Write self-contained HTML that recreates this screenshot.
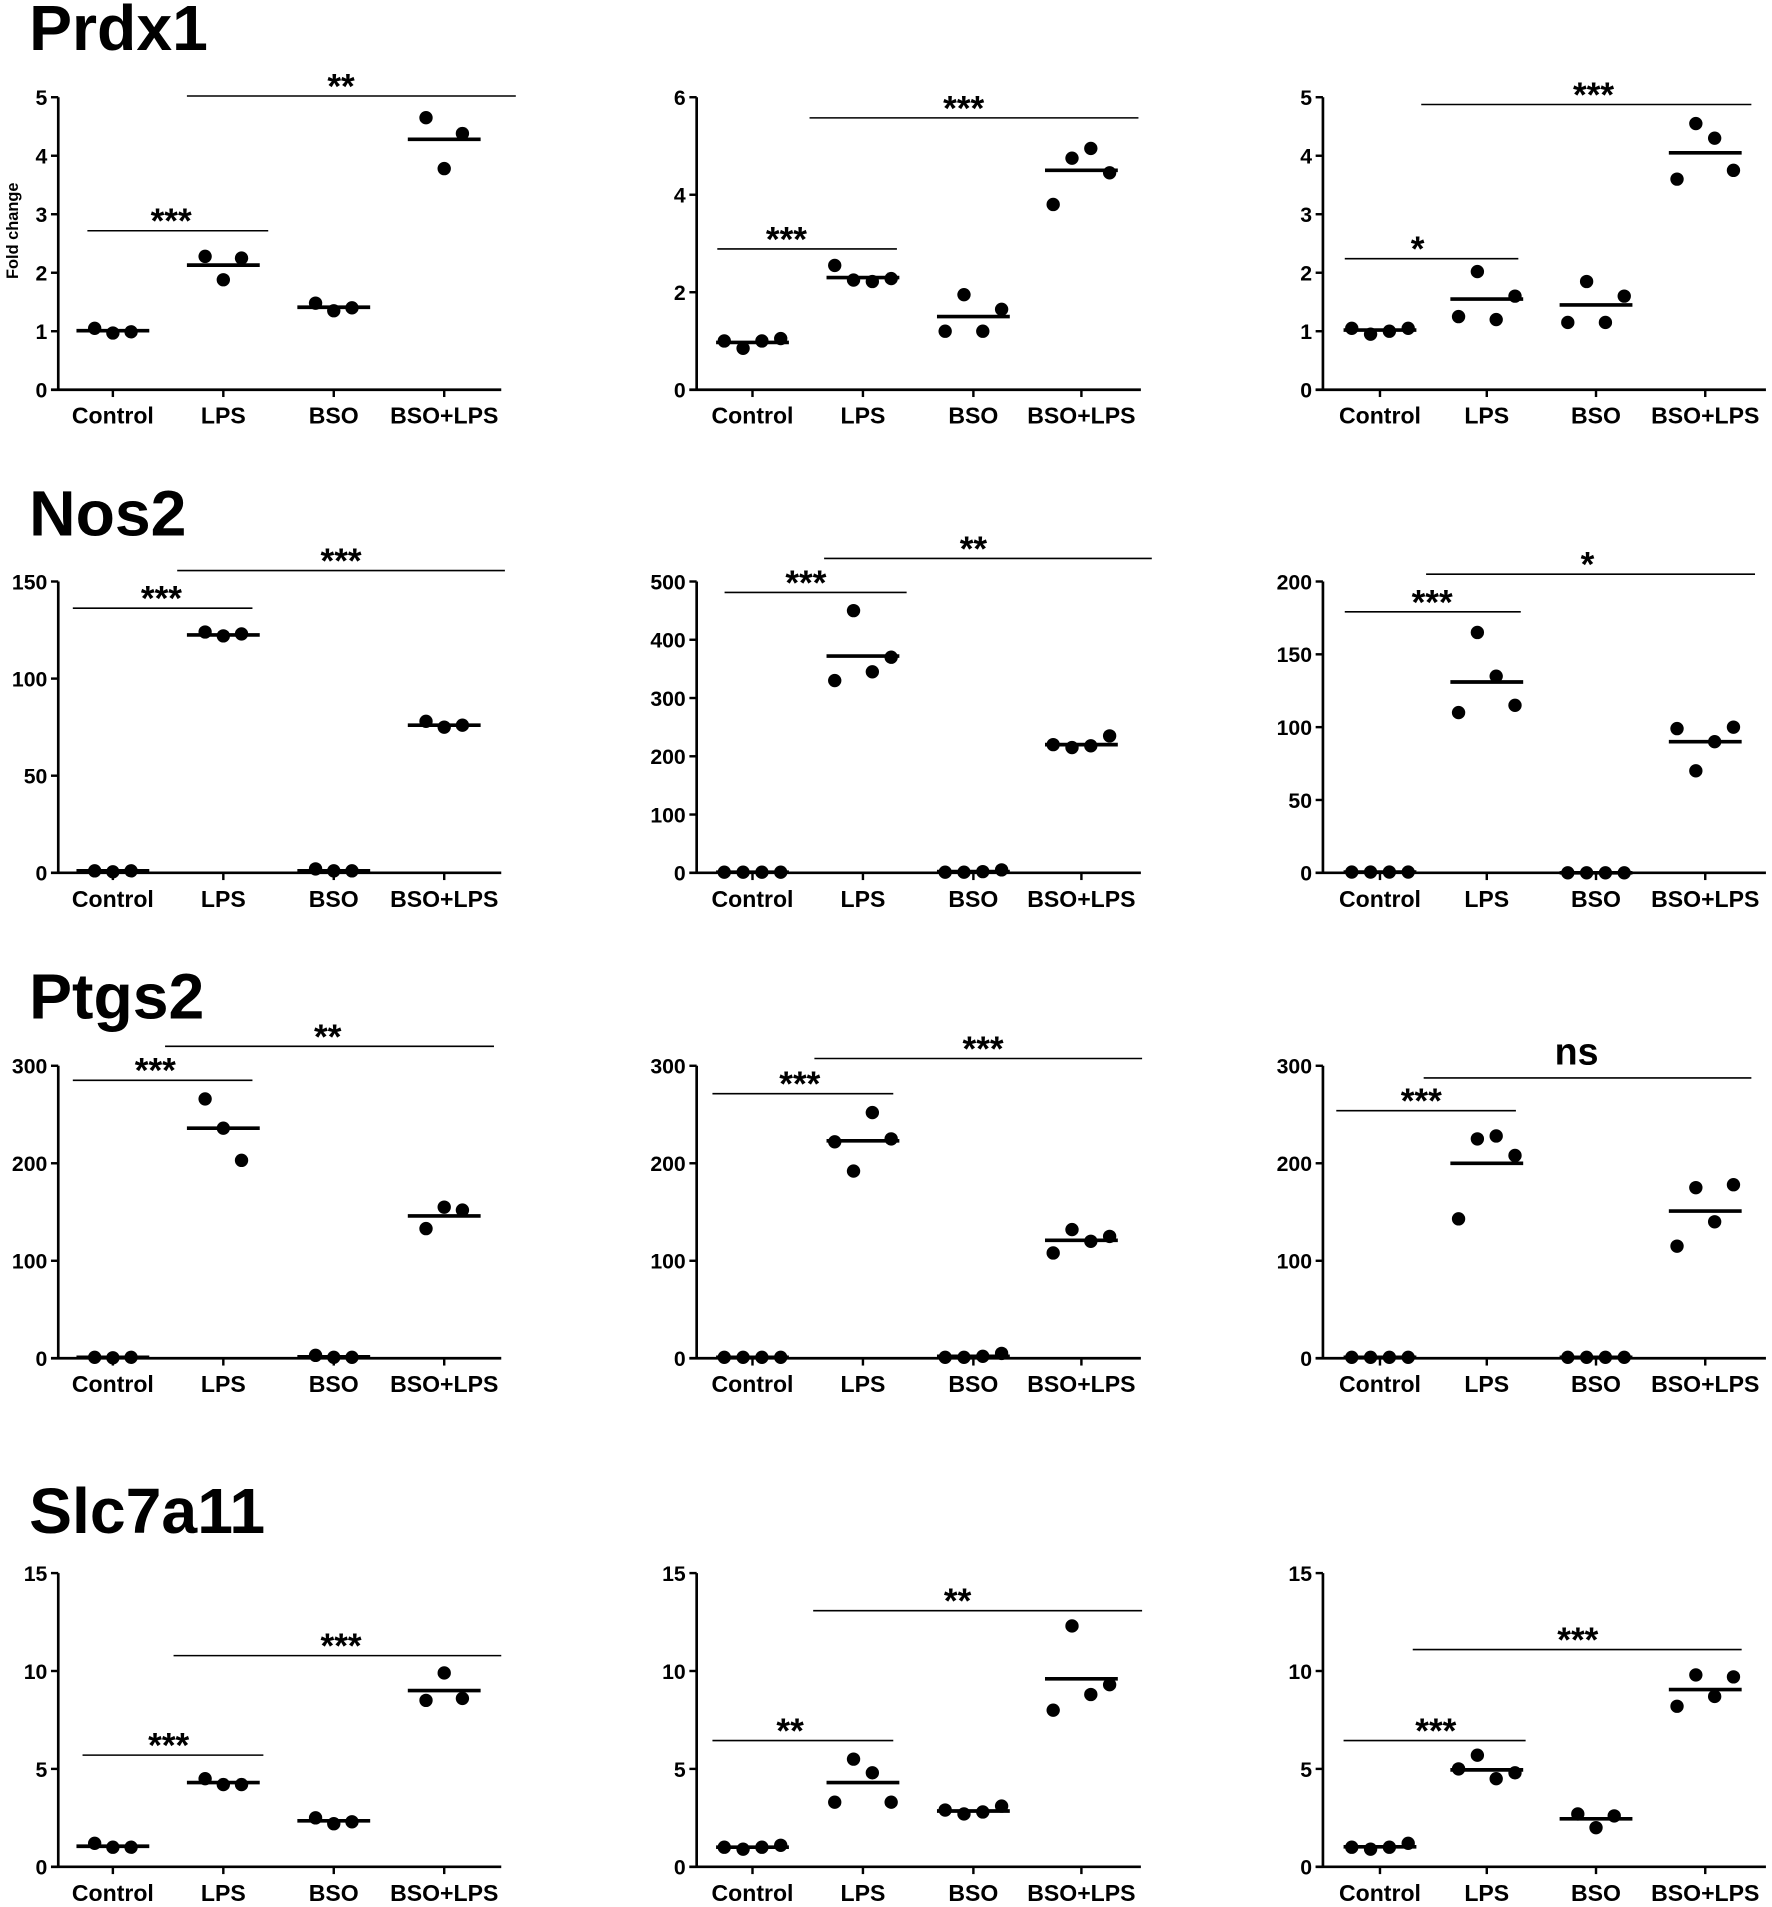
<!DOCTYPE html>
<html><head><meta charset="utf-8"><style>
html,body{margin:0;padding:0;background:#fff}
svg{display:block}
text{font-family:"Liberation Sans",Arial,sans-serif;font-weight:bold;fill:#000}
</style></head><body>
<svg id="fig" width="1772" height="1907" viewBox="0 0 1460 1571" xmlns="http://www.w3.org/2000/svg"></svg>
<script>
const categories = ["Control","LPS","BSO","BSO+LPS"];
const geneTitles = ["Prdx1","Nos2","Ptgs2","Slc7a11"];
const yMaxes = [[5,6,5],[150,500,200],[300,300,300],[15,15,15]];
const yStepRow = [[1,2,1],[50,100,50],[100,100,100],[5,5,5]];
// values[row][col][category] = replicate points
const values = [
 [[[1.05,0.97,0.99],[2.28,1.88,2.25],[1.48,1.35,1.40],[4.65,3.78,4.38]],
  [[1.0,0.85,1.0,1.05],[2.55,2.25,2.22,2.28],[1.2,1.95,1.2,1.65],[3.8,4.75,4.95,4.45]],
  [[1.05,0.95,1.0,1.05],[1.25,2.02,1.2,1.6],[1.15,1.85,1.15,1.6],[3.6,4.55,4.3,3.75]]],
 [[[1,0.5,1],[124,122,123],[2,1,1],[78,75,76]],
  [[1,1,1,1],[330,450,345,370],[1,1,2,5],[220,215,218,235]],
  [[0.5,0.5,0.5,0.5],[110,165,135,115],[0,0,0,0],[99,70,90,100]]],
 [[[1,0.5,1],[266,236,203],[3,1,1],[133,155,152]],
  [[1,1,1,1],[222,192,252,225],[1,1,2,5],[108,132,120,125]],
  [[1,1,1,1],[143,225,228,208],[1,1,1,1],[115,175,140,178]]],
 [[[1.2,1.0,1.0],[4.5,4.2,4.2],[2.5,2.2,2.3],[8.5,9.9,8.6]],
  [[1.0,0.9,1.0,1.1],[3.3,5.5,4.8,3.3],[2.9,2.7,2.8,3.1],[8.0,12.3,8.8,9.3]],
  [[1.0,0.9,1.0,1.2],[5.0,5.7,4.5,4.8],[2.7,2.0,2.6],[8.2,9.8,8.7,9.7]]]
];
const means = [
 [[1.01,2.13,1.41,4.28],[0.97,2.3,1.5,4.5],[1.02,1.55,1.45,4.05]],
 [[1,122.5,1,76],[1,372,2,220],[0.5,131,0,90]],
 [[1,236,1.5,146],[1,223,2,121],[1,200,1,151]],
 [[1.05,4.3,2.35,9.0],[1.0,4.3,2.85,9.6],[1.02,4.95,2.45,9.05]]
];
const sigShort = [["***","***","*"],["***","***","***"],["***","***","***"],["***","**","***"]];
const sigLong = [["**","***","***"],["***","**","*"],["**","***","ns"],["***","**","***"]];
</script>
<script>
const svg=document.getElementById('fig');
const NS='http://www.w3.org/2000/svg';
function mk(tag,attrs,parent){const e=document.createElementNS(NS,tag);for(const k in attrs)e.setAttribute(k,attrs[k]);(parent||svg).appendChild(e);return e;}
const colAxisX=[48,574,1090], colEnd=[413,940,1455];
const colTicks=[[93,184,275,366],[620,711,802,891],[1137,1225,1315,1405]];
const rowTop=[80,479,878,1296], rowZero=[321,719,1119,1538];
const titleY=[41,441,839,1263];
const shortG=[[[72,221,190,141],[591,739,205,648],[1108,1251,213,1168]],
 [[60,208,501,133],[597,747,488,664],[1108,1253,504,1180]],
 [[60,208,890,128],[587,736,901,659],[1101,1249,915,1171]],
 [[68,217,1446,139],[587,736,1434,651],[1107,1257,1434,1183]]];
const longG=[[[154,425,79,281],[667,938,97,794],[1171,1443,86,1313]],
 [[146,416,470,281],[679,949,460,802],[1175,1446,473,1308]],
 [[136,407,862,270],[671,941,872,810],[1173,1443,888,1299]],
 [[143,413,1364,281],[670,941,1327,789],[1164,1435,1359,1300]]];
for(let r=0;r<4;r++){
  const t=mk('text',{x:24,y:titleY[r],'font-size':53});
  
  
  t.textContent=geneTitles[r];
  for(let c=0;c<3;c++){
    const g=mk('g',{});
    
    
    const x0=colAxisX[c], yT=rowTop[r], yZ=rowZero[r], ymax=yMaxes[r][c];
    const yS=v=>yZ-(v/ymax)*(yZ-yT);
    const ya=mk('line',{x1:x0,y1:yT,x2:x0,y2:yZ,stroke:'#000','stroke-width':2.2},g);
    
    const xa=mk('line',{x1:x0-6,y1:yZ,x2:colEnd[c],y2:yZ,stroke:'#000','stroke-width':2.2},g);
    
    for(let v=0;v<=ymax+1e-9;v+=yStepRow[r][c]){
      const y=yS(v);
      mk('line',{x1:x0-6,y1:y,x2:x0,y2:y,stroke:'#000','stroke-width':2},g);
      const tl=mk('text',{x:x0-9,y:y+6.5,'font-size':17.5,'text-anchor':'end'},g);
      
      tl.textContent=v;
    }
    for(let k=0;k<4;k++){
      const cx=colTicks[c][k];
      mk('line',{x1:cx,y1:yZ,x2:cx,y2:yZ+6,stroke:'#000','stroke-width':2},g);
      const xl=mk('text',{x:cx,y:yZ+28,'font-size':19,'text-anchor':'middle'},g);
      
      xl.textContent=categories[k];
      const pts=values[r][c][k], n=pts.length, sp=n===3?15:15.5;
      pts.forEach((v,i)=>{
        const dot=mk('circle',{cx:cx+(i-(n-1)/2)*sp,cy:yS(v),r:5.5,fill:'#000'},g);
        
        
      });
      const ml=mk('line',{x1:cx-30,x2:cx+30,y1:yS(means[r][c][k]),y2:yS(means[r][c][k]),stroke:'#000','stroke-width':3},g);
      
      
    }
    [[shortG,sigShort],[longG,sigLong]].forEach(([G,S])=>{
      const a=G[r][c];
      const sl=mk('line',{x1:a[0],x2:a[1],y1:a[2],y2:a[2],stroke:'#000','stroke-width':1.3},g);
      
      const lab=S[r][c], isNs=lab==='ns';
      const st=mk('text',{x:a[3],y:isNs?a[2]-11:a[2]+2,'font-size':isNs?31:29,'text-anchor':'middle'},g);
      
      st.textContent=lab;
    });
  }
}
const fc=mk('text',{x:0,y:0,'font-size':13.5,'text-anchor':'middle',transform:'translate(15,190) rotate(-90)'});

fc.textContent='Fold change';
</script>
</body></html>
